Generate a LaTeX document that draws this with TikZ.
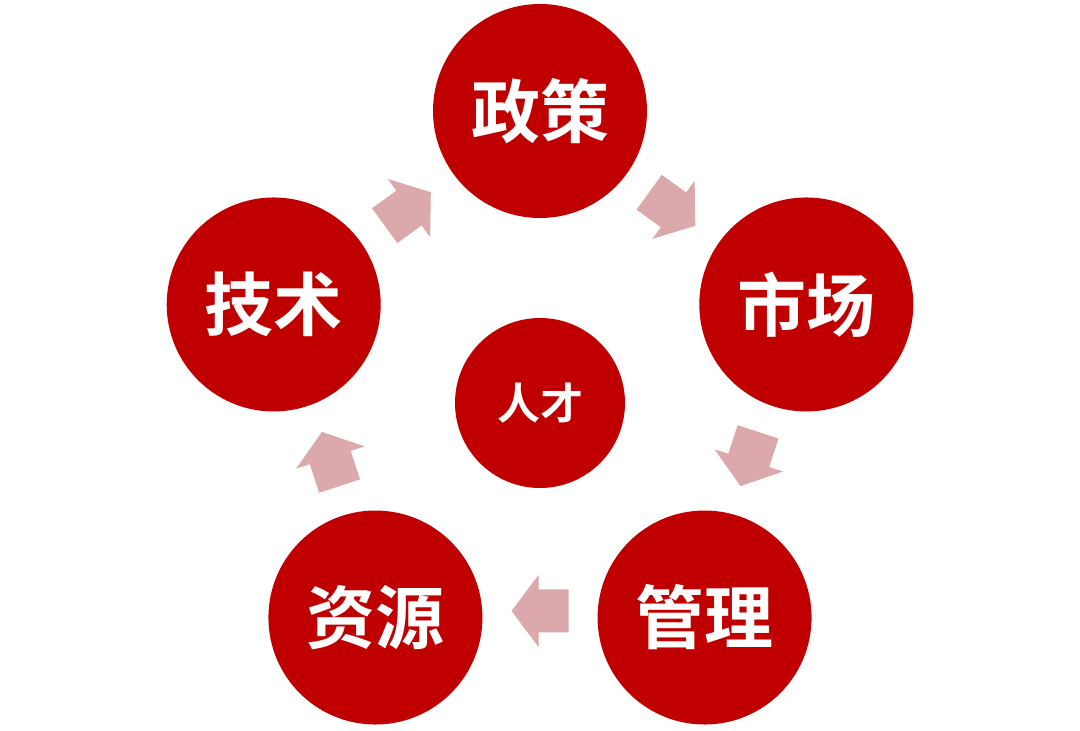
\documentclass[tikz,border=0pt]{standalone}
\usepackage{fontspec}
\usetikzlibrary{calc}
\newfontfamily\cjk{Noto Sans CJK SC}[BoldFont={Noto Sans CJK SC Bold}]
\definecolor{cred}{HTML}{C00000}
\definecolor{cpink}{HTML}{DBA8AB}
\begin{document}
\begin{tikzpicture}[x=1pt,y=1pt,
  bigc/.style={circle,fill=cred,minimum size=214pt,inner sep=0pt,text=white,font=\cjk\bfseries\fontsize{69}{69}\selectfont},
  smallc/.style={circle,fill=cred,minimum size=170pt,inner sep=0pt,text=white,font=\cjk\bfseries\fontsize{43}{43}\selectfont},
  blockarrow/.style={fill=cpink}]
\useasboundingbox (0,0) rectangle (1080,731);
\coordinate (o) at (540,340);
\node[bigc] (zc) at ($(o)+(90:280)$) {政策};
\node[bigc] (sc) at ($(o)+(18:280)$) {市场};
\node[bigc] (gl) at ($(o)+(-54:280)$) {管理};
\node[bigc] (zy) at ($(o)+(-126:280)$) {资源};
\node[bigc] (js) at ($(o)+(162:280)$) {技术};
\node[smallc] (rc) at (540,328) {人才};
\foreach \a/\r in {54/225,-18/220,-90/220,198/220,126/225}{
  \begin{scope}[shift={($(o)+(\a:\r)$)},rotate=\a-90]
    \fill[blockarrow] (-28.5,-21.5) -- (1.5,-21.5) -- (1.5,-36) -- (28.5,0) -- (1.5,36) -- (1.5,21.5) -- (-28.5,21.5) -- cycle;
  \end{scope}
}
\end{tikzpicture}
\end{document}
